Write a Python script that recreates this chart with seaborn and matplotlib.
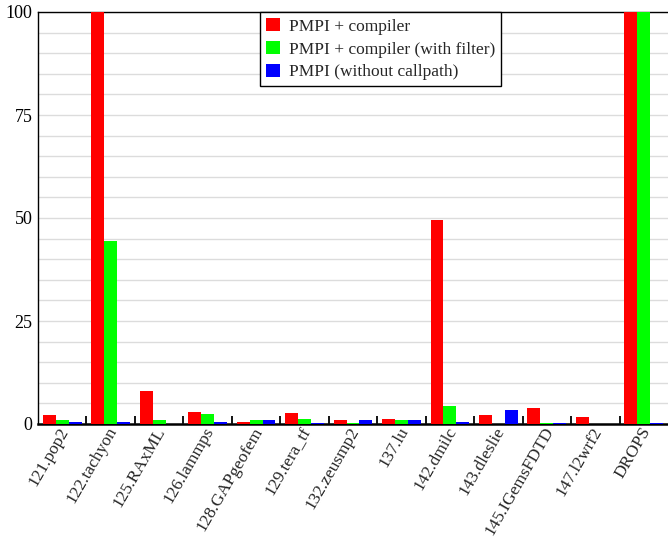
import matplotlib
matplotlib.use("Agg")
import matplotlib.pyplot as plt
import matplotlib.transforms as mtransforms
from matplotlib.ticker import MultipleLocator, FixedLocator
import seaborn as sns
import pandas as pd

benchmarks = ["121.pop2", "122.tachyon", "125.RAxML", "126.lammps", "128.GAPgeofem",
              "129.tera_tf", "132.zeusmp2", "137.lu", "142.dmilc", "143.dleslie",
              "145.IGemsFDTD", "147.l2wrf2", "DROPS"]
series_names = ["PMPI + compiler", "PMPI + compiler (with filter)", "PMPI (without callpath)"]
pmpi_compiler = [2.1, 100, 7.9, 2.8, 0.6, 2.6, 0.85, 1.1, 49.5, 2.3, 4.0, 1.8, 100]
pmpi_compiler_filter = [0.85, 44.3, 0.85, 2.4, 0.85, 1.1, 0.35, 0.85, 4.25, 0.0, 0.35, 0.0, 100]
pmpi_no_callpath = [0.6, 0.6, 0.0, 0.6, 0.85, 0.35, 0.85, 0.85, 0.6, 3.5, 0.35, 0.0, 0.35]
colors = ["#ff0000", "#00ff00", "#0000ff"]

rows = []
for name, vals in zip(series_names, [pmpi_compiler, pmpi_compiler_filter, pmpi_no_callpath]):
    for b, v in zip(benchmarks, vals):
        rows.append({"benchmark": b, "series": name, "value": v})
df = pd.DataFrame(rows)

sns.set_theme(style="white")
plt.rcParams["font.family"] = ["Liberation Serif", "DejaVu Serif"]

fig = plt.figure(figsize=(6.68, 5.4), dpi=100)
ax = fig.add_axes([38 / 668, 1 - 424 / 540, 1 - 38 / 668, (424 - 12) / 540])

sns.barplot(data=df, x="benchmark", y="value", hue="series", order=benchmarks,
            hue_order=series_names, palette=colors, saturation=1, width=0.8,
            linewidth=0, ax=ax, zorder=3)

ax.set_ylim(0, 100)
ax.set_xlim(-0.5, len(benchmarks) - 0.5)
ax.yaxis.set_major_locator(MultipleLocator(25))
ax.yaxis.set_minor_locator(MultipleLocator(5))
ax.grid(axis="y", which="both", color="#dcdcdc", linewidth=1.0, zorder=0)
ax.set_axisbelow(True)
ax.tick_params(axis="y", which="both", left=False, length=0, labelsize=13, pad=4,
               colors="black")

# group separators along the bottom axis
ax.xaxis.set_minor_locator(FixedLocator([i + 0.5 for i in range(len(benchmarks) - 1)]))
ax.tick_params(axis="x", which="minor", bottom=True, direction="in", length=6,
               width=1.3, color="black")
ax.tick_params(axis="x", which="major", bottom=False, length=0, labelsize=12.5, pad=3)
shift = mtransforms.ScaledTranslation(3 / 100, 0, fig.dpi_scale_trans)
for lbl in ax.get_xticklabels():
    lbl.set_rotation(60)
    lbl.set_ha("right")
    lbl.set_va("center")
    lbl.set_rotation_mode("anchor")
    lbl.set_transform(lbl.get_transform() + shift)

ax.set_xlabel("")
ax.set_ylabel("")
for side in ["left", "top", "bottom"]:
    ax.spines[side].set_visible(True)
    ax.spines[side].set_color("black")
ax.spines["left"].set_linewidth(1.0)
ax.spines["top"].set_linewidth(1.0)
ax.spines["bottom"].set_linewidth(1.8)
ax.spines["right"].set_visible(False)

leg = ax.legend(loc="upper left", frameon=True, fontsize=12.5, fancybox=False,
                handlelength=0.8, handleheight=0.8, handletextpad=0.5, borderpad=0.35,
                labelspacing=0.35, borderaxespad=0)
leg.set_bbox_to_anchor(((260 - 38) / 630, 1.0), transform=ax.transAxes)
leg.get_frame().set_edgecolor("black")
leg.get_frame().set_linewidth(1.0)
leg.get_frame().set_alpha(1)
leg.set_zorder(10)

fig.savefig("out.png", dpi=100)
